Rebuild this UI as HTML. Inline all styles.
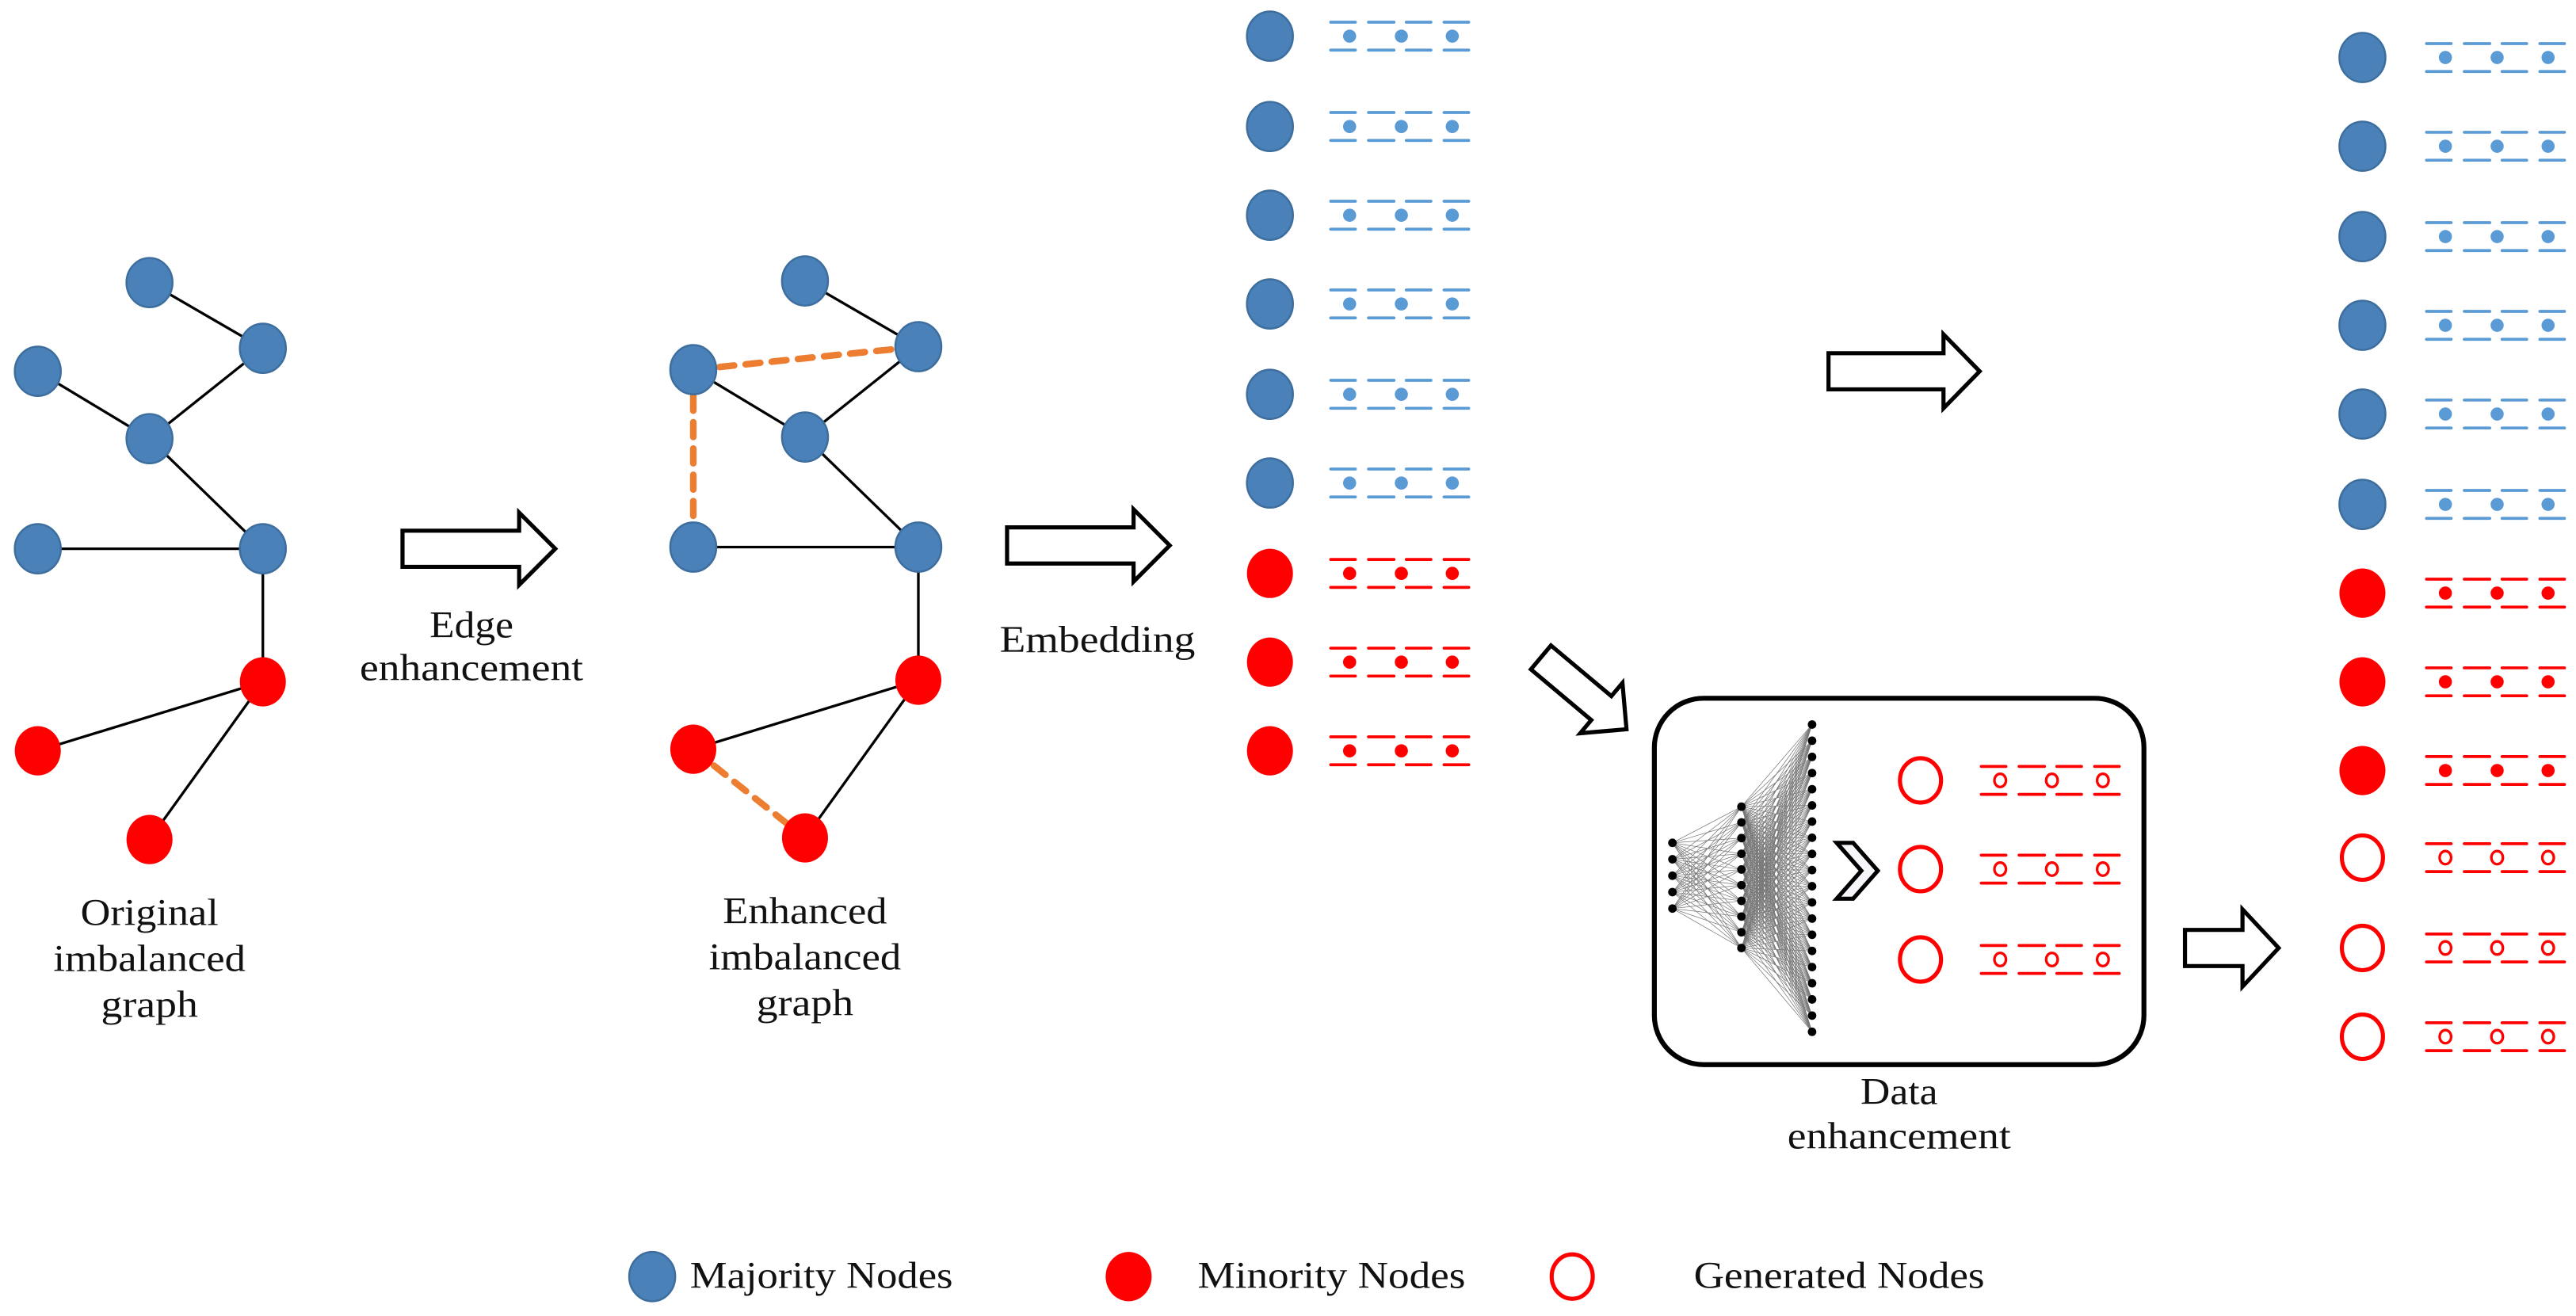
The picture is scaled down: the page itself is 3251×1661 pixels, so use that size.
<!DOCTYPE html>
<html><head><meta charset="utf-8"><style>
html,body{margin:0;padding:0;background:#fff;}
svg{display:block;}
text{font-family:"Liberation Serif",serif;font-size:23px;fill:#111;}
</style></head><body>
<svg id="s" width="3251" height="1661" viewBox="0 0 1568 801" preserveAspectRatio="none" xmlns="http://www.w3.org/2000/svg">
<g id="g"></g>
<text x="287" y="388" text-anchor="middle" textLength="51" lengthAdjust="spacingAndGlyphs">Edge</text>
<text x="287" y="414" text-anchor="middle" textLength="136" lengthAdjust="spacingAndGlyphs">enhancement</text>
<text x="91" y="563" text-anchor="middle" textLength="84" lengthAdjust="spacingAndGlyphs">Original</text>
<text x="91" y="591" text-anchor="middle" textLength="117" lengthAdjust="spacingAndGlyphs">imbalanced</text>
<text x="91" y="619" text-anchor="middle" textLength="59" lengthAdjust="spacingAndGlyphs">graph</text>
<text x="490" y="562" text-anchor="middle" textLength="100" lengthAdjust="spacingAndGlyphs">Enhanced</text>
<text x="490" y="590" text-anchor="middle" textLength="117" lengthAdjust="spacingAndGlyphs">imbalanced</text>
<text x="490" y="618" text-anchor="middle" textLength="59" lengthAdjust="spacingAndGlyphs">graph</text>
<text x="668" y="397" text-anchor="middle" textLength="119" lengthAdjust="spacingAndGlyphs">Embedding</text>
<text x="1156" y="672" text-anchor="middle" textLength="47" lengthAdjust="spacingAndGlyphs">Data</text>
<text x="1156" y="699" text-anchor="middle" textLength="136" lengthAdjust="spacingAndGlyphs">enhancement</text>
<text x="420" y="784" textLength="160" lengthAdjust="spacingAndGlyphs">Majority Nodes</text>
<text x="729" y="784" textLength="163" lengthAdjust="spacingAndGlyphs">Minority Nodes</text>
<text x="1031" y="784" textLength="177" lengthAdjust="spacingAndGlyphs">Generated Nodes</text>
</svg>
<script>
var NS="http://www.w3.org/2000/svg",G=document.getElementById('g');
function el(t,a){var e=document.createElementNS(NS,t);for(var k in a)e.setAttribute(k,a[k]);G.appendChild(e);return e;}
var BL="#4a81b8",BS="#3d6e9e",RD="#ff0000",LB="#5b9bd5";
function node(x,y,c,r){r=r||14;
 if(c=='b')el('ellipse',{cx:x,cy:y,rx:r,ry:r+1,fill:BL,stroke:BS,'stroke-width':1.2});
 else if(c=='r')el('ellipse',{cx:x,cy:y,rx:r,ry:r+1,fill:RD});
 else el('ellipse',{cx:x,cy:y,rx:r-1.5,ry:r-0.5,fill:'none',stroke:RD,'stroke-width':2.5});}
function line(a,b,c,d,st){el('line',Object.assign({x1:a,y1:b,x2:c,y2:d,stroke:'#000','stroke-width':1.6},st||{}));}
function graph(dx,dy,extra){
 var P={A:[91,172],B:[160,212],C:[23,226],D:[91,267],E:[23,334],F:[160,334],G:[160,415],H:[23,457],I:[91,511]};
 for(var k in P){P[k]=[P[k][0]+dx,P[k][1]+dy];}
 [['A','B'],['C','D'],['B','D'],['D','F'],['E','F'],['F','G'],['G','H'],['G','I']].forEach(function(e){line(P[e[0]][0],P[e[0]][1],P[e[1]][0],P[e[1]][1]);});
 if(extra)[['C','B'],['C','E'],['H','I']].forEach(function(e){line(P[e[0]][0],P[e[0]][1],P[e[1]][0],P[e[1]][1],{stroke:'#ed7d31','stroke-width':4,'stroke-dasharray':'9,7','stroke-linecap':'round'});});
 'ABCDEF'.split('').forEach(function(k){node(P[k][0],P[k][1],'b');});
 'GHI'.split('').forEach(function(k){node(P[k][0],P[k][1],'r');});
}
graph(0,0,false);graph(399,-1,true);
function arrow(x1,x2,yc,h,sh,hw,rot){
 var s=h/2,t=sh/2,hx=x2-hw;
 var p=[[x1,yc-t],[hx,yc-t],[hx,yc-s],[x2,yc],[hx,yc+s],[hx,yc+t],[x1,yc+t]].map(function(q){return q.join(',');}).join(' ');
 var e=el('polygon',{points:p,fill:'#fff',stroke:'#000','stroke-width':2.5});
 if(rot)e.setAttribute('transform',rot);}
arrow(245,338,334,44,22,22);
arrow(613,712,332,44,22,22);
arrow(1113,1205,226,45,22,22);
arrow(1330,1387,577,47,22,22);
arrow(930,998,422,40,19,20,'rotate(40 964 422)');
function feat(x,y,c){var col=c=='b'?LB:RD;
 [[0,15],[23,38.5],[46,61],[69,84]].forEach(function(s){
  el('line',{x1:x+s[0],y1:y-8.5,x2:x+s[1],y2:y-8.5,stroke:col,'stroke-width':1.8,'stroke-linecap':'round'});
  el('line',{x1:x+s[0],y1:y+8.5,x2:x+s[1],y2:y+8.5,stroke:col,'stroke-width':1.8,'stroke-linecap':'round'});});
 [11.5,43,74].forEach(function(d){
  if(c=='g')el('ellipse',{cx:x+d,cy:y,rx:3.5,ry:4,fill:'none',stroke:col,'stroke-width':1.6});
  else el('circle',{cx:x+d,cy:y,r:4,fill:col});});}
[22,77,131,185,240,294,349,403,457].forEach(function(y,i){var c=i<6?'b':'r';node(773,y,c);feat(810,y,c);});
[35,89,144,198,252,307,361,415,469,522,577,631].forEach(function(y,i){var c=i<6?'b':(i<9?'r':'g');node(1438,y,c);feat(1477,y,c);});
el('rect',{x:1007,y:425,width:298,height:223,rx:30,ry:30,fill:'#fff',stroke:'#000','stroke-width':3});
function lay(x,y0,y1,n){var a=[];for(var i=0;i<n;i++)a.push([x,y0+(y1-y0)*i/(n-1)]);return a;}
var L1=lay(1018,513,553,5),L2=lay(1060,491,577,10),L3=lay(1103,441,628,20);
[[L1,L2],[L2,L3]].forEach(function(p){p[0].forEach(function(a){p[1].forEach(function(b){el('line',{x1:a[0],y1:a[1],x2:b[0],y2:b[1],stroke:'#777','stroke-width':0.35});});});});
L1.concat(L2,L3).forEach(function(a){el('circle',{cx:a[0],cy:a[1],r:2.6,fill:'#000'});});
el('polygon',{points:'1118,513 1128,513 1143,530 1128,547 1118,547 1133,530',fill:'#f4f6fa',stroke:'#000','stroke-width':2.5});
[475,529,584].forEach(function(y){node(1169,y,'g',14);feat(1206,y,'g');});
node(397,777,'b');node(687,777,'r');node(957,777,'g');
</script>
</body></html>
